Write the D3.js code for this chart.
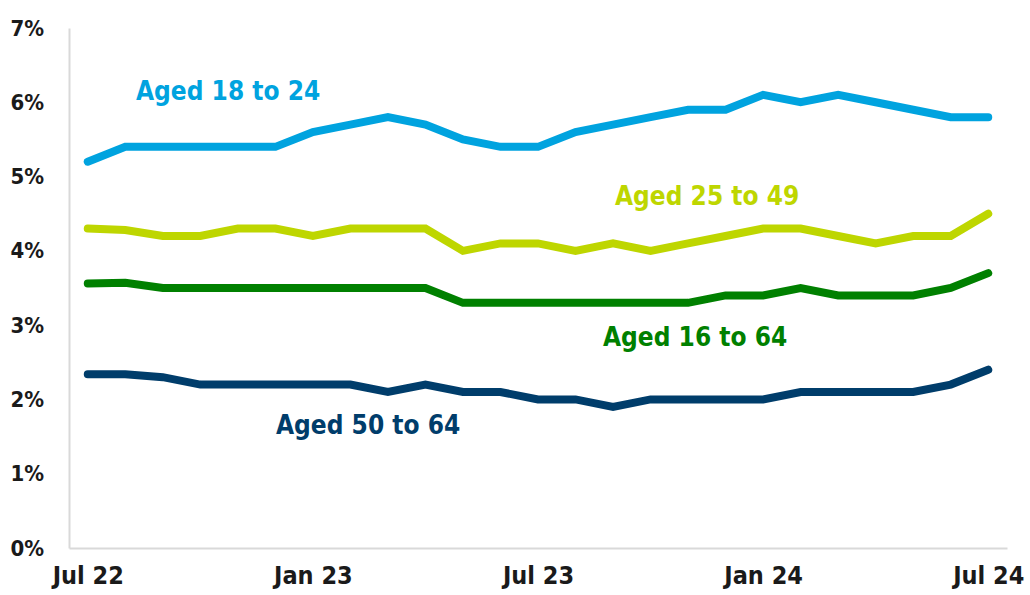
<!DOCTYPE html>
<html>
<head>
<meta charset="utf-8">
<script src="https://cdn.jsdelivr.net/npm/d3@7"></script>
<style>
  html, body { margin: 0; padding: 0; background: #fff; }
  svg { display: block; }
  text { font-family: "DejaVu Sans Condensed", "DejaVu Sans", sans-serif; font-stretch: condensed; font-weight: bold; }
</style>
</head>
<body>
<svg id="chart" width="1030" height="595"></svg>
<script>
const months = ["Jul 22","Aug 22","Sep 22","Oct 22","Nov 22","Dec 22","Jan 23","Feb 23","Mar 23","Apr 23","May 23","Jun 23",
                "Jul 23","Aug 23","Sep 23","Oct 23","Nov 23","Dec 23","Jan 24","Feb 24","Mar 24","Apr 24","May 24","Jun 24","Jul 24"];
const xTickLabels = ["Jul 22","Jan 23","Jul 23","Jan 24","Jul 24"];
const yTicks = [0,1,2,3,4,5,6,7];

const aged18to24 = [5.2,5.4,5.4,5.4,5.4,5.4,5.6,5.7,5.8,5.7,5.5,5.4,5.4,5.6,5.7,5.8,5.9,5.9,6.1,6.0,6.1,6.0,5.9,5.8,5.8];
const aged25to49 = [4.3,4.28,4.2,4.2,4.3,4.3,4.2,4.3,4.3,4.3,4.0,4.1,4.1,4.0,4.1,4.0,4.1,4.2,4.3,4.3,4.2,4.1,4.2,4.2,4.5];
const aged16to64 = [3.56,3.57,3.5,3.5,3.5,3.5,3.5,3.5,3.5,3.5,3.3,3.3,3.3,3.3,3.3,3.3,3.3,3.4,3.4,3.5,3.4,3.4,3.4,3.5,3.7];
const aged50to64 = [2.34,2.34,2.3,2.2,2.2,2.2,2.2,2.2,2.1,2.2,2.1,2.1,2.0,2.0,1.9,2.0,2.0,2.0,2.0,2.1,2.1,2.1,2.1,2.2,2.4];

const seriesNames = ["Aged 16 to 64","Aged 50 to 64","Aged 25 to 49","Aged 18 to 24"];
const seriesValues = [aged16to64, aged50to64, aged25to49, aged18to24];
const seriesColors = ["#008000","#003D6B","#BED600","#00A3DF"];
const labelPos = [[603,346],[276,434],[615,205],[136,100]];

const svg = d3.select("#chart");
const x = d3.scalePoint().domain(months).range([69,1007]).padding(0.5);
const y = d3.scaleLinear().domain([0,7]).range([548,28]);

// axes
const xAxis = svg.append("g").attr("transform","translate(0,548)")
  .call(d3.axisBottom(x).tickValues(xTickLabels).tickSize(0).tickSizeOuter(0).tickPadding(18));
xAxis.select(".domain").attr("stroke","#d9d9d9").attr("stroke-width",2);
xAxis.selectAll("text").attr("font-size",25).attr("fill","#1a1a1a").attr("dy","0.71em");

const yAxis = svg.append("g").attr("transform","translate(69,0)")
  .call(d3.axisLeft(y).tickValues(yTicks).tickFormat(d => d + "%").tickSize(0).tickSizeOuter(0).tickPadding(25));
yAxis.select(".domain").attr("stroke","#d9d9d9").attr("stroke-width",2);
yAxis.selectAll("text").attr("font-size",22).attr("fill","#1a1a1a");

const line = d3.line().x((d,i) => x(months[i])).y(d => y(d));

seriesValues.forEach((vals, k) => {
  svg.append("path")
    .datum(vals)
    .attr("d", line)
    .attr("fill","none")
    .attr("stroke", seriesColors[k])
    .attr("stroke-width", 8)
    .attr("stroke-linecap","round")
    .attr("stroke-linejoin","miter");
  svg.append("text")
    .attr("x", labelPos[k][0])
    .attr("y", labelPos[k][1])
    .attr("font-size", 26)
    .attr("fill", seriesColors[k])
    .text(seriesNames[k]);
});
</script>
</body>
</html>
